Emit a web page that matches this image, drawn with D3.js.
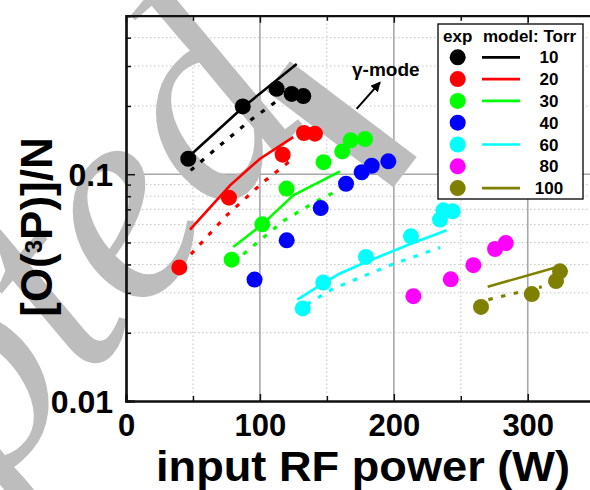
<!DOCTYPE html>
<html><head><meta charset="utf-8">
<script src="https://cdn.jsdelivr.net/npm/d3@7"></script>
<style>body{margin:0;background:#fff}svg{display:block}</style>
</head><body>
<svg id="chart" width="590" height="490"></svg>
<script>
// Pressure series (Torr) and their colours
const pressures = ["10", "20", "30", "40", "60", "80", "100"];
const colors = ["#000000", "#ff0000", "#00ff00", "#0000ff", "#00ffff", "#ff00ff", "#808000"];

// Measured [O(3P)]/N versus input RF power (W)
const exp10  = [[46.5, 0.117], [87.2, 0.199], [112.5, 0.238], [123.7, 0.226], [132.4, 0.221]];
const exp20  = [[39.8, 0.0388], [76.9, 0.0788], [117.0, 0.122], [132.9, 0.152], [141.1, 0.151]];
const exp30  = [[78.9, 0.042], [101.8, 0.0601], [119.9, 0.0864], [147.5, 0.113], [161.5, 0.126], [167.8, 0.141], [178.5, 0.143]];
const exp40  = [[96.0, 0.0343], [120.0, 0.0511], [145.4, 0.0709], [164.3, 0.0908], [176.0, 0.102], [183.5, 0.109], [195.9, 0.114]];
const exp60  = [[132.0, 0.0256], [147.3, 0.0333], [179.2, 0.0432], [212.8, 0.0532], [234.5, 0.0631], [237.0, 0.0693], [244.0, 0.0686]];
const exp80  = [[214.6, 0.029], [242.5, 0.0344], [259.4, 0.0397], [275.6, 0.0468], [283.6, 0.0497]];
const exp100 = [[265.1, 0.026], [303.0, 0.0296], [321.1, 0.0338], [324.1, 0.0373]];

// Model curves: solid and dotted variants
const model10  = [[47.8, 0.121], [87.2, 0.197], [127.5, 0.306]];
const model10b = [[48.3, 0.104], [70.2, 0.134], [92.6, 0.1725], [116.3, 0.218]];
const model20  = [[47.8, 0.057], [77.7, 0.0893], [100.1, 0.117], [124.9, 0.1457]];
const model20b = [[48.5, 0.0444], [75.2, 0.0659], [102.5, 0.0923], [126.2, 0.119]];
const model30  = [[80.1, 0.0478], [101.8, 0.0601], [124.9, 0.0807], [159.8, 0.1029]];
const model30b = [[87.6, 0.0444], [117.5, 0.0622], [141.1, 0.0754], [159.8, 0.0857]];
const model60  = [[127.9, 0.028], [147.3, 0.033], [159.8, 0.0365], [179.2, 0.041], [212.8, 0.0494], [239.4, 0.0566]];
const model60b = [[135.0, 0.0267], [154.8, 0.0313], [197.2, 0.0397], [234.5, 0.0475]];
const model100  = [[270.1, 0.0319], [324.1, 0.0393]];
const model100b = [[270.6, 0.028], [310.5, 0.0319]];

// Axis ticks
const xMajor = [0, 100, 200, 300];
const xMinor = [50, 150, 250];
const yMajor = [0.01, 0.1];
const yMinor = [0.02, 0.03, 0.04, 0.05, 0.06, 0.07, 0.08, 0.09, 0.2, 0.3, 0.4];
const yLabels = ["0.01", "0.1"];

// Shaded transition band and its label
const bandCorners = [[122.5, 0.3146], [217.1, 0.119], [199.6, 0.0877], [105.0, 0.2322]];
const modeLabel = {text: "\u03b3-mode", at: [168.8, 0.272]};
const modeArrow = [[172.2, 0.194], [189.7, 0.2543]];

const seriesExp = [exp10, exp20, exp30, exp40, exp60, exp80, exp100];
const seriesModel = [
  {c: 0, solid: model10, dotted: model10b},
  {c: 1, solid: model20, dotted: model20b},
  {c: 2, solid: model30, dotted: model30b},
  {c: 4, solid: model60, dotted: model60b},
  {c: 6, solid: model100, dotted: model100b}
];
const hasModel = [true, true, true, false, true, false, true];

const FONT = "'Liberation Sans', Arial, Helvetica, sans-serif";
const svg = d3.select("#chart");
svg.append("rect").attr("width", 590).attr("height", 490).attr("fill", "#fff");

const x = d3.scaleLinear().domain([0, 350]).range([126, 594.7]);
const y = d3.scaleLog().domain([0.01, 0.5]).range([401, 15.7]);
const x0 = x.range()[0], x1 = x.range()[1], y0 = y.range()[0], y1 = y.range()[1];

// grid
const grid = svg.append("g");
grid.selectAll(".vmin").data(xMinor).join("line")
  .attr("x1", d => x(d)).attr("x2", d => x(d)).attr("y1", y0).attr("y2", y1)
  .attr("stroke", "#c4c4c4").attr("stroke-width", 1).attr("stroke-dasharray", "1.5,2.5");
grid.selectAll(".hmin").data(yMinor).join("line")
  .attr("y1", d => y(d)).attr("y2", d => y(d)).attr("x1", x0).attr("x2", x1)
  .attr("stroke", "#c4c4c4").attr("stroke-width", 1).attr("stroke-dasharray", "1.5,2.5");
grid.selectAll(".vmaj").data(xMajor.slice(1)).join("line")
  .attr("x1", d => x(d)).attr("x2", d => x(d)).attr("y1", y0).attr("y2", y1)
  .attr("stroke", "#a8a8a8").attr("stroke-width", 1.6);
grid.selectAll(".hmaj").data([0.1]).join("line")
  .attr("y1", d => y(d)).attr("y2", d => y(d)).attr("x1", x0).attr("x2", x1)
  .attr("stroke", "#a8a8a8").attr("stroke-width", 1.6);

// background lettering
svg.append("text")
  .attr("transform", "translate(-369,924) rotate(-50)")
  .attr("font-family", "'Liberation Serif', 'Times New Roman', serif")
  .attr("font-style", "italic").attr("font-size", 290)
  .attr("fill", "#bdbdbd").text("Accepted");

// transition band
svg.append("polygon")
  .attr("points", bandCorners.map(d => [x(d[0]), y(d[1])].join(",")).join(" "))
  .attr("fill", "#bdbdbd");

// model curves
const line = d3.line().x(d => x(d[0])).y(d => y(d[1]));
const gm = svg.append("g").attr("fill", "none");
seriesModel.forEach(s => {
  gm.append("path").attr("d", line(s.solid)).attr("stroke", colors[s.c]).attr("stroke-width", 2.6);
  gm.append("path").attr("d", line(s.dotted)).attr("stroke", colors[s.c]).attr("stroke-width", 3.2)
    .attr("stroke-dasharray", "4.5,8.5");
});

// measured points
seriesExp.forEach((pts, i) => {
  svg.append("g").selectAll("circle").data(pts).join("circle")
    .attr("cx", d => x(d[0])).attr("cy", d => y(d[1])).attr("r", 8)
    .attr("fill", colors[i]);
});

// annotation
svg.append("defs").append("marker").attr("id", "ah")
  .attr("viewBox", "0 0 10 10").attr("refX", 9).attr("refY", 5)
  .attr("markerWidth", 5).attr("markerHeight", 5).attr("orient", "auto")
  .append("path").attr("d", "M0,0L10,5L0,10z").attr("fill", "#000");
svg.append("line")
  .attr("x1", x(modeArrow[0][0])).attr("y1", y(modeArrow[0][1]))
  .attr("x2", x(modeArrow[1][0])).attr("y2", y(modeArrow[1][1]))
  .attr("stroke", "#000").attr("stroke-width", 2).attr("marker-end", "url(#ah)");
svg.append("text").attr("x", x(modeLabel.at[0])).attr("y", y(modeLabel.at[1]))
  .attr("font-family", FONT).attr("font-weight", "bold").attr("font-size", 19)
  .text(modeLabel.text);

// axes
const axB = svg.append("g").attr("transform", `translate(0,${y0})`)
  .call(d3.axisBottom(x).tickValues(xMajor).tickSize(-7).tickPadding(13).tickFormat(d3.format("d")));
axB.append("g").call(d3.axisBottom(x).tickValues(xMinor).tickSize(-5).tickFormat(""));
const axT = svg.append("g").attr("transform", `translate(0,${y1})`)
  .call(d3.axisTop(x).tickValues(xMajor.concat(xMinor)).tickSize(0).tickFormat(""));
axT.selectAll(".tick").append("line").attr("y2", d => xMajor.includes(d) ? 7 : 5).attr("stroke", "#000").attr("stroke-width", 1.5);
const axL = svg.append("g").attr("transform", `translate(${x0},0)`)
  .call(d3.axisLeft(y).tickValues(yMajor).tickSize(-9).tickPadding(13)
    .tickFormat((d, i) => yLabels[i]));
axL.append("g").call(d3.axisLeft(y).tickValues(yMinor).tickSize(-5).tickFormat(""));

[axB, axT, axL].forEach(a => {
  a.selectAll(".domain").attr("stroke", "#111").attr("stroke-width", 2.2);
  a.selectAll(".tick line").attr("stroke", "#111").attr("stroke-width", 1.5);
  a.selectAll(".tick text").attr("font-family", FONT).attr("font-weight", "bold")
    .attr("font-size", 32).attr("fill", "#000");
});
axB.selectAll(".tick text").attr("font-size", 31);
axL.selectAll(".tick text").attr("dy", "0.35em");

// axis titles
svg.append("text").attr("x", 363).attr("y", 480.5).attr("text-anchor", "middle")
  .attr("font-family", FONT).attr("font-weight", "bold").attr("font-size", 42.5)
  .attr("textLength", 414).attr("lengthAdjust", "spacingAndGlyphs")
  .text("input RF power (W)");
const yt = svg.append("text").attr("transform", "translate(52,227) rotate(-90)")
  .attr("text-anchor", "middle").attr("font-family", FONT).attr("font-weight", "bold").attr("font-size", 44);
yt.append("tspan").text("[O(");
yt.append("tspan").attr("font-size", 24).attr("dy", -10).text("3");
yt.append("tspan").attr("dy", 10).text("P)]/N");

// legend
const lg = svg.append("g").attr("font-family", FONT).attr("font-weight", "bold").attr("font-size", 17);
lg.append("rect").attr("x", 438).attr("y", 24).attr("width", 145).attr("height", 175)
  .attr("fill", "#fff").attr("stroke", "#000").attr("stroke-width", 1.3);
lg.append("text").attr("x", 443).attr("y", 42).text("exp");
lg.append("text").attr("x", 483).attr("y", 42).text("model: Torr");
pressures.forEach((p, i) => {
  const cy = 57.3 + i * 21.8;
  lg.append("circle").attr("cx", 457.7).attr("cy", cy).attr("r", 8).attr("fill", colors[i]);
  if (hasModel[i]) {
    lg.append("line").attr("x1", 482).attr("x2", 520).attr("y1", cy).attr("y2", cy)
      .attr("stroke", colors[i]).attr("stroke-width", 2.7);
  }
  lg.append("text").attr("x", 549).attr("y", cy + 6).attr("text-anchor", "middle").text(p);
});
</script>
</body></html>
